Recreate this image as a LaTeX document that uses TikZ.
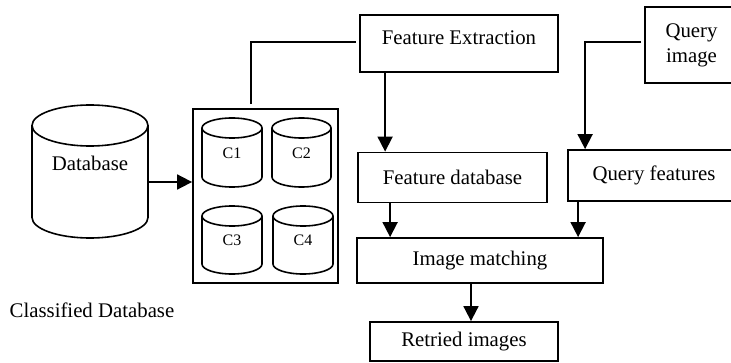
\documentclass[tikz,border=0pt]{standalone}
\usepackage{fontspec}
\setmainfont{Liberation Serif}
\usetikzlibrary{arrows.meta,calc}
\newcommand\mycyl[5]{% cx, topY, botY, rx, ry
  \draw[cyl,fill=white] (#1-#4,#2-#5) -- (#1-#4,#3+#5)
     arc[start angle=180,end angle=360,x radius=#4pt,y radius=#5pt] -- (#1+#4,#2-#5);
  \draw[cyl] (#1,#2-#5) ellipse[x radius=#4pt,y radius=#5pt];}
\begin{document}
\begin{tikzpicture}[x=1pt,y=1pt,
  box/.style={draw, line width=1.8pt, inner sep=0pt, font=\fontsize{20.8}{25}\selectfont, align=center},
  lbl/.style={inner sep=0pt, font=\fontsize{20.8}{25}\selectfont},
  small/.style={inner sep=0pt, font=\fontsize{16}{19}\selectfont},
  cyl/.style={line width=1.6pt},
  arr/.style={line width=1.8pt, -{Triangle[width=15pt,length=15pt]}},
  ln/.style={line width=1.8pt}]
\useasboundingbox (0,0) rectangle (731,362);
\clip (0,0) rectangle (731,362);

% Database cylinder
\mycyl{90}{257}{124}{58}{20.5}
\node[lbl] (db) at (90,199) {Database};
\coordinate (dbR) at (148,180);

% Classified database box
\node[box, minimum width=145pt, minimum height=174pt] (cls) at (265.5,166) {};
\mycyl{232}{244}{175}{30}{10}
\mycyl{301.5}{244}{175}{29.5}{10}
\mycyl{232}{156}{88}{30}{10}
\mycyl{303}{156}{88}{30}{10}
\node[small] (c1) at (232,209) {C1};
\node[small] (c2) at (301.5,209) {C2};
\node[small] (c3) at (232,122) {C3};
\node[small] (c4) at (303,122) {C4};
\node[lbl] (cd) at (92,52) {Classified Database};

% Boxes
\node[box, minimum width=198pt, minimum height=57pt, text height=14pt, text depth=11pt] (fe) at (459,318.5) {Feature Extraction};
\node[box, minimum width=93pt, minimum height=76pt] (qi) at (691.5,317) {Query\\image};
\node[box, minimum width=189pt, minimum height=50pt] (fd) at (452.5,184.5) {Feature database};
\node[box, minimum width=172pt, minimum height=51pt] (qf) at (654,186.5) {Query features};
\node[box, minimum width=246pt, minimum height=45pt] (im) at (480,101.5) {Image matching};
\node[box, minimum width=188pt, minimum height=39pt] (rt) at (464,20.5) {Retried images};

% Connectors
\draw[arr] (dbR) -- (dbR -| cls.west);
\draw[ln, shorten <=4pt, shorten >=3pt] ([xshift=-14.5pt]cls.north) |- ([yshift=1.5pt]fe.west);
\draw[arr] ([xshift=26pt]fe.south west) -- ([xshift=26pt]fe.south west |- fd.north);
\draw[arr, shorten <=3pt] ([yshift=3pt]qi.west) -| ([xshift=18pt]qf.north west);
\draw[arr] ([xshift=33pt]fd.south west) -- ([xshift=33pt]fd.south west |- im.north);
\draw[arr] ([xshift=11pt]qf.south west) -- ([xshift=11pt]qf.south west |- im.north);
\draw[arr] ([xshift=-9pt]im.south) -- ([xshift=-9pt]im.south |- rt.north);
\end{tikzpicture}
\end{document}
